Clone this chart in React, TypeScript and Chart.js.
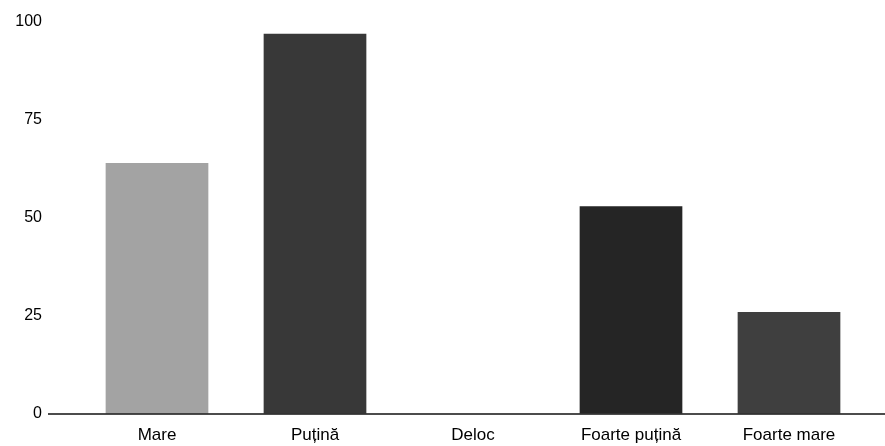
import React, { useEffect, useRef } from "react";
import { Chart, registerables } from "chart.js";

Chart.register(...registerables);

const categories = ["Mare", "Puțină", "Deloc", "Foarte puțină", "Foarte mare"];
const values = [64, 97, 0, 53, 26];
const barColors = ["#a3a3a3", "#383838", "#bdbdbd", "#252525", "#3f3f3f"];
const yTicks = [0, 25, 50, 75, 100];

const baselinePlugin = {
  id: "baseline",
  afterDatasetsDraw(chart: any) {
    const { ctx, chartArea } = chart;
    ctx.save();
    ctx.strokeStyle = "#111";
    ctx.lineWidth = 1.5;
    ctx.beginPath();
    ctx.moveTo(48, chartArea.bottom);
    ctx.lineTo(885, chartArea.bottom);
    ctx.stroke();
    ctx.restore();
  },
};

export default function App() {
  const ref = useRef<HTMLCanvasElement>(null);
  useEffect(() => {
    if (!ref.current) return;
    const chart = new Chart(ref.current, {
      type: "bar",
      data: {
        labels: categories,
        datasets: [
          {
            data: values,
            backgroundColor: barColors,
            barPercentage: 0.65,
            categoryPercentage: 1,
          },
        ],
      },
      options: {
        animation: false,
        responsive: false,
        devicePixelRatio: 1,
        layout: { padding: { top: 22, right: 17, left: 0, bottom: 0 } },
        plugins: { legend: { display: false }, tooltip: { enabled: false } },
        scales: {
          x: {
            grid: {
              display: true,
              drawOnChartArea: false,
              drawTicks: true,
              tickLength: 11,
              color: "rgba(0,0,0,0)",
            },
            border: { display: false },
            ticks: {
              padding: 0,
              color: "#000",
              font: { family: "Liberation Sans, Arial, sans-serif", size: 17 },
              maxRotation: 0,
            },
            afterFit: (s: any) => {
              s.height = 32;
            },
          },
          y: {
            min: 0,
            max: 100,
            afterBuildTicks: (s: any) => {
              s.ticks = yTicks.map((v) => ({ value: v }));
            },
            grid: {
              display: true,
              drawOnChartArea: false,
              drawTicks: true,
              tickLength: 36,
              color: "rgba(0,0,0,0)",
            },
            border: { display: false },
            ticks: {
              padding: 0,
              color: "#000",
              font: { family: "Liberation Sans, Arial, sans-serif", size: 16 },
            },
            afterFit: (s: any) => {
              s.width = 78;
            },
          },
        },
      },
      plugins: [baselinePlugin],
    });
    return () => chart.destroy();
  }, []);
  return (
    <div style={{ position: "absolute", left: 0, top: 0, width: 885, height: 446, background: "#fff" }}>
      <canvas ref={ref} width={885} height={446} style={{ display: "block", width: 885, height: 446 }} />
    </div>
  );
}
